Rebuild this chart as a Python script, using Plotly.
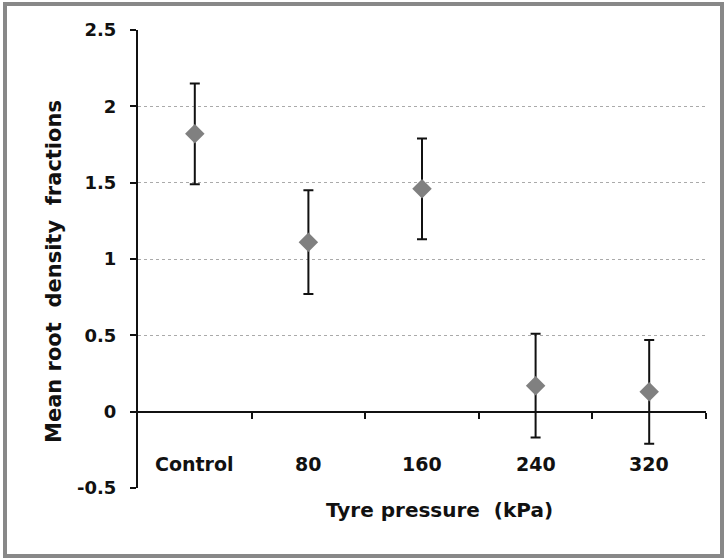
import plotly.graph_objects as go

categories = ["Control", "80", "160", "240", "320"]
means = [1.82, 1.11, 1.46, 0.17, 0.13]
errors = [0.33, 0.34, 0.33, 0.34, 0.34]
y_ticks = [-0.5, 0, 0.5, 1, 1.5, 2, 2.5]
y_ticktext = ["-0.5", "0", "0.5", "1", "1.5", "2", "2.5"]
x_title = "Tyre pressure  (kPa)"
y_title = "Mean root  density  fractions"

FONT = "DejaVu Sans, Verdana, sans-serif"
xpos = list(range(len(categories)))
boundaries = [i + 0.5 for i in xpos]

fig = go.Figure()
fig.add_trace(go.Scatter(
    x=xpos, y=means, mode="markers",
    marker=dict(symbol="diamond", size=15, color="#808080"),
    error_y=dict(type="data", array=errors, visible=True, color="#111111",
                 thickness=2, width=5),
    showlegend=False, hoverinfo="skip",
))

L, R, T, B = 138, 20, 30, 70
W, H = 726, 558
pw, ph = W - L - R, H - T - B


def px2paper_x(p):
    return (p - L) / pw


def px2paper_y(p):
    return (H - B - p) / ph


annotations = [
    dict(x=i, y=-0.345, xref="x", yref="y", text="<b>%s</b>" % c, showarrow=False,
         font=dict(family=FONT, size=19, color="#111111"))
    for i, c in zip(xpos, categories)
]
annotations.append(dict(x=px2paper_x(439), y=px2paper_y(524), xref="paper", yref="paper",
                        text="<b>%s</b>" % x_title, showarrow=False,
                        font=dict(family=FONT, size=20, color="#111111")))
annotations.append(dict(x=px2paper_x(40), y=px2paper_y(272), xref="paper", yref="paper",
                        text="<b>%s</b>" % y_title, showarrow=False, textangle=-90,
                        font=dict(family=FONT, size=21, color="#111111")))

shapes = [dict(type="rect", xref="paper", yref="paper",
               x0=px2paper_x(5), x1=px2paper_x(722), y0=px2paper_y(556), y1=px2paper_y(4),
               line=dict(color="#888888", width=4), fillcolor="rgba(0,0,0,0)", layer="below")]

fig.update_layout(
    width=W, height=H,
    margin=dict(l=L, r=R, t=T, b=B),
    paper_bgcolor="white", plot_bgcolor="white",
    font=dict(family=FONT, color="#111111"),
    xaxis=dict(range=[-0.5, 4.5], anchor="free", position=1 / 6,
               tickmode="array", tickvals=boundaries, showticklabels=False,
               ticks="outside", ticklen=6, tickwidth=2, tickcolor="#111111",
               showline=True, linecolor="#111111", linewidth=2,
               showgrid=False, zeroline=False),
    yaxis=dict(range=[-0.5, 2.5], tickmode="array", tickvals=y_ticks, ticktext=y_ticktext,
               ticks="outside", ticklen=6, tickwidth=2, tickcolor="#111111",
               ticklabelstandoff=10,
               showline=True, linecolor="#111111", linewidth=2,
               showgrid=True, gridcolor="#aaaaaa", gridwidth=1, griddash="dot",
               zeroline=False,
               tickfont=dict(family=FONT, size=18, color="#111111", weight="bold")),
    annotations=annotations,
    shapes=shapes,
)

fig.write_html("out.html")
